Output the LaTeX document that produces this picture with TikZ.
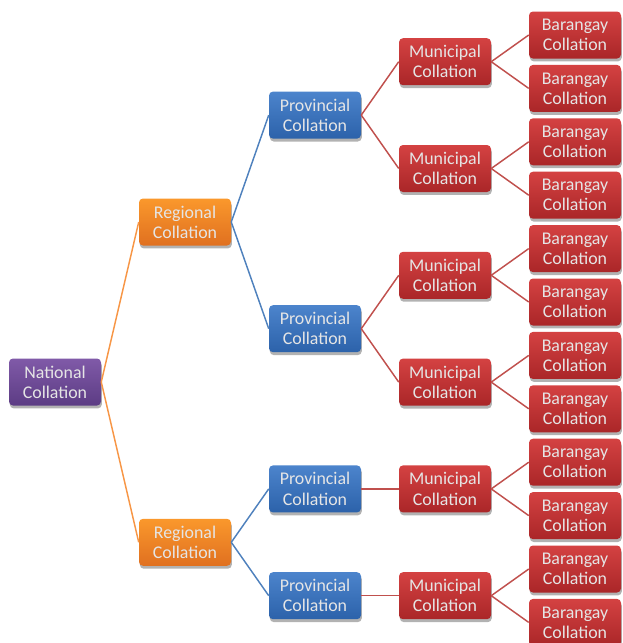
\documentclass[tikz,border=0pt]{standalone}
\usepackage{fontspec}
\setmainfont{Carlito}
\usetikzlibrary{shadows}
\definecolor{purT}{RGB}{128,90,168}
\definecolor{purB}{RGB}{92,60,132}
\definecolor{oraT}{RGB}{250,152,44}
\definecolor{oraB}{RGB}{224,112,32}
\definecolor{bluT}{RGB}{76,132,204}
\definecolor{bluB}{RGB}{44,98,170}
\definecolor{redT}{RGB}{212,66,66}
\definecolor{redB}{RGB}{170,38,40}
\definecolor{oraL}{RGB}{247,150,70}
\definecolor{bluL}{RGB}{79,129,189}
\definecolor{redL}{RGB}{192,80,77}
\tikzset{
  box/.style={rectangle, rounded corners=3pt, minimum width=69pt, minimum height=35.25pt,
    inner sep=0pt, align=center, text width=66pt,
    font=\fontsize{13.4}{15.1}\selectfont, text=white!90!black,
    drop shadow={shadow xshift=0.6pt, shadow yshift=-2.2pt, opacity=0.3, fill=black}},
  natbox/.style={box, top color=purT, bottom color=purB},
  regbox/.style={box, top color=oraT, bottom color=oraB},
  provbox/.style={box, top color=bluT, bottom color=bluB},
  munbox/.style={box, top color=redT, bottom color=redB},
  barbox/.style={box, top color=redT, bottom color=redB},
  link/.style={line width=1.1pt},
}
\begin{document}
\begin{tikzpicture}[x=0.75pt,y=-0.75pt]
\useasboundingbox (0,0) rectangle (622,643);
\clip (0,0) rectangle (622,643);
\path
  (55,382) coordinate (cn0)
  (185,222) coordinate (cr1) (185,542.3) coordinate (cr2)
  (315,115.1) coordinate (cp1) (315,328.7) coordinate (cp2)
  (315,488.9) coordinate (cp3) (315,595.7) coordinate (cp4);
\foreach \i/\y in {1/61.7,2/168.5,3/275.3,4/382.1,5/488.9,6/595.7}
  \path (445,\y) coordinate (cm\i);
\foreach \i in {1,...,12}
  \path (575,{35+53.4*(\i-1)}) coordinate (cb\i);
% nodes
\node[natbox] (n0) at (cn0) {National\\Collation};
\node[regbox] (r1) at (cr1) {Regional\\Collation};
\node[regbox] (r2) at (cr2) {Regional\\Collation};
\foreach \i in {1,...,4}
  \node[provbox] (p\i) at (cp\i) {Provincial\\Collation};
\foreach \i in {1,...,6}
  \node[munbox] (m\i) at (cm\i) {Municipal\\Collation};
\foreach \i in {1,...,12}
  \node[barbox] (b\i) at (cb\i) {Barangay\\Collation};
% connectors
\draw[link, oraL] (n0.east) -- (r1.west);
\draw[link, oraL] (n0.east) -- (r2.west);
\draw[link, bluL] (r1.east) -- (p1.west);
\draw[link, bluL] (r1.east) -- (p2.west);
\draw[link, bluL] (r2.east) -- (p3.west);
\draw[link, bluL] (r2.east) -- (p4.west);
\draw[link, redL] (p1.east) -- (m1.west);
\draw[link, redL] (p1.east) -- (m2.west);
\draw[link, redL] (p2.east) -- (m3.west);
\draw[link, redL] (p2.east) -- (m4.west);
\draw[link, redL] (p3.east) -- (m5.west);
\draw[link, redL] (p4.east) -- (m6.west);
\foreach \i in {1,...,6}{
  \pgfmathtruncatemacro{\ba}{2*\i-1}
  \pgfmathtruncatemacro{\bb}{2*\i}
  \draw[link, redL] (m\i.east) -- (b\ba.west);
  \draw[link, redL] (m\i.east) -- (b\bb.west);
}
\end{tikzpicture}
\end{document}
